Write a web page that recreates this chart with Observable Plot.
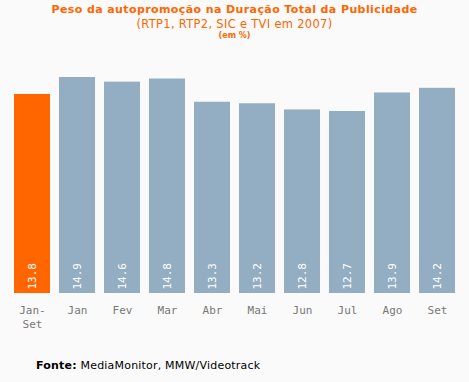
<!DOCTYPE html>
<html><head><meta charset="utf-8">
<script src="https://cdn.jsdelivr.net/npm/d3@7"></script>
<script src="https://cdn.jsdelivr.net/npm/@observablehq/plot@0.6"></script>
<style>
body{margin:0;background:#fafafa;width:469px;height:382px;overflow:hidden;position:relative;font-family:"DejaVu Sans",Verdana,sans-serif;}
#t1{position:absolute;top:3px;left:0;width:469px;text-align:center;color:#ff6600;font-weight:bold;font-size:11px;letter-spacing:0.4px;}
#t2{position:absolute;top:17px;left:0;width:469px;text-align:center;color:#ff6600;font-size:11.5px;letter-spacing:0.3px;}
#t3{position:absolute;top:31px;left:0;width:469px;text-align:center;color:#ff6600;font-weight:bold;font-size:8px;}
#chart{position:absolute;top:45px;left:0;}
#cap{position:absolute;top:359px;left:36px;font-size:11px;color:#000;letter-spacing:0.2px;}
</style></head>
<body>
<div id="t1">Peso da autopromoção na Duração Total da Publicidade</div>
<div id="t2">(RTP1, RTP2, SIC e TVI em 2007)</div>
<div id="t3">(em %)</div>
<div id="chart"></div>
<div id="cap"><b>Fonte:</b> MediaMonitor, MMW/Videotrack</div>
<script>
const categories = ["Jan-\nSet","Jan","Fev","Mar","Abr","Mai","Jun","Jul","Ago","Set"];
const values = [13.8,14.9,14.6,14.8,13.3,13.2,12.8,12.7,13.9,14.2];
const highlight = ["Jan-\nSet"];
const yBase = 0.92;
const data = categories.map((c,i)=>({cat:c, v:values[i], hi: highlight.includes(c)}));
const chart = Plot.plot({
  width:469, height:290,
  marginLeft:8.5, marginRight:8.5, marginTop:32, marginBottom:42,
  style:{background:"transparent", fontFamily:"DejaVu Sans Mono, monospace"},
  x:{domain:categories, paddingInner:0.2, paddingOuter:0.1, label:null},
  y:{domain:[yBase,14.9], clamp:true, axis:null},
  marks:[
    Plot.barY(data,{x:"cat", y:"v", fill:d=>d.hi?"#ff6600":"#93adc2"}),
    Plot.text(data,{x:"cat", y:()=>yBase, text:d=>d.v.toFixed(1), rotate:-90, textAnchor:"start", dy:-4, fill:"white", fontSize:11, fontFamily:"DejaVu Sans Mono, monospace"}),
    Plot.axisX({tickSize:0, tickPadding:10, fontSize:11, color:"#777", fill:"#777", lineAnchor:"top", lineHeight:1.3, fontFamily:"DejaVu Sans Mono, monospace", label:null})
  ]
});
document.getElementById("chart").appendChild(chart);
</script>
</body></html>
